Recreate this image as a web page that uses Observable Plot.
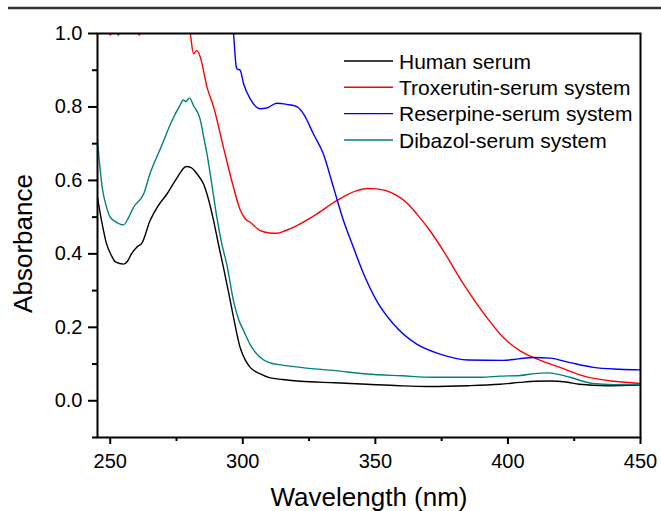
<!DOCTYPE html>
<html>
<head>
<meta charset="utf-8">
<script src="https://cdn.jsdelivr.net/npm/d3@7"></script>
<script src="https://cdn.jsdelivr.net/npm/@observablehq/plot@0.6"></script>
<style>
  html, body { margin: 0; padding: 0; background: #fff; }
  #chart svg { display: block; font-family: "Liberation Sans", Arial, sans-serif; }
</style>
</head>
<body>
<div id="chart"></div>
<script>
const seriesNames = ["Human serum", "Troxerutin-serum system", "Reserpine-serum system", "Dibazol-serum system"];
const seriesColors = ["#000000", "#ff0000", "#0000ff", "#008080"];

const humanWl = [245,247,248.5,250.5,252,255,256.5,258,260,262,265,268,271.4,275,278.7,280.5,282.7,285.2,287,289,291,292.7,294.5,296.5,299,301,302.8,306.6,310,315,321.7,335,346.8,359,370,385,397,404.6,410,416,422,427,437,450];
const humanAbs = [0.563,0.48,0.43,0.395,0.378,0.372,0.38,0.40,0.418,0.43,0.49,0.53,0.563,0.605,0.638,0.635,0.618,0.59,0.55,0.49,0.42,0.363,0.30,0.227,0.145,0.11,0.091,0.073,0.063,0.058,0.053,0.049,0.045,0.041,0.039,0.041,0.045,0.05,0.053,0.054,0.051,0.045,0.041,0.043];

const troxWl = [245,249,250,251.5,253,254.5,256,259,261,262.5,270,278,280.2,281.4,282.7,284,286.5,289,292.7,296.5,299,301,302.8,306.6,310,312.8,316,320.4,328,335.4,343,347,350.5,354,358,362,365.6,370.6,375.6,383.2,392,398.3,404.6,410.9,419.6,429.7,440,450];
const troxAbs = [1.15,1.04,0.995,1.03,0.995,1.02,1.06,1.04,0.995,1.05,1.15,1.08,1.0,0.945,0.954,0.935,0.854,0.80,0.69,0.581,0.52,0.495,0.486,0.463,0.457,0.456,0.463,0.477,0.509,0.545,0.572,0.578,0.577,0.572,0.559,0.538,0.509,0.463,0.409,0.318,0.227,0.172,0.136,0.114,0.091,0.065,0.053,0.047];

const reserWl = [294,296.5,297.5,297.8,299,300.3,302.8,306.6,309,312.8,316.6,320.4,322.9,326.6,330.4,334.2,338,341.7,345.2,350.5,356.8,365.6,374.4,385,398.3,404,409.6,415.9,423.4,432.2,442.2,450];
const reserAbs = [1.12,1.0,0.91,0.904,0.90,0.863,0.822,0.795,0.797,0.81,0.807,0.801,0.781,0.727,0.672,0.581,0.49,0.418,0.352,0.272,0.209,0.154,0.127,0.111,0.110,0.114,0.118,0.116,0.104,0.091,0.086,0.084];

const dibWl = [245,246.2,247,248.5,250,252,255,257,258.8,262.6,265,268.9,273.9,276,277.6,278.5,279.9,281.4,283.9,285.2,286.5,288.3,290.2,292,294,296.5,298.5,300.3,303,306.6,310,315,321.7,335,346.8,360,371.9,390,397,404.6,410,414.6,419,423.4,432,440,450];
const dibAbs = [0.725,0.63,0.58,0.53,0.50,0.488,0.479,0.50,0.527,0.563,0.618,0.686,0.772,0.80,0.819,0.815,0.824,0.804,0.767,0.72,0.672,0.59,0.50,0.43,0.37,0.272,0.22,0.191,0.15,0.118,0.104,0.097,0.091,0.082,0.073,0.068,0.064,0.064,0.067,0.069,0.074,0.076,0.072,0.064,0.047,0.044,0.045];

const xMajor = [250, 300, 350, 400, 450];
const xMinor = [275, 325, 375, 425];
const yMajor = [0.0, 0.2, 0.4, 0.6, 0.8, 1.0];
const yMinor = [-0.1, 0.1, 0.3, 0.5, 0.7, 0.9];

const allWl = [humanWl, troxWl, reserWl, dibWl];
const allAbs = [humanAbs, troxAbs, reserAbs, dibAbs];
const rows = [];
allWl.forEach((wl, s) => wl.forEach((w, i) => rows.push({series: seriesNames[s], wl: w, abs: allAbs[s][i]})));

const W = 661, H = 511;
const plot = Plot.plot({
  width: W,
  height: H,
  marginLeft: 97,
  marginRight: 21,
  marginTop: 33,
  marginBottom: 74,
  style: {fontFamily: "'Liberation Sans', Arial, sans-serif", background: "#fff", color: "#000"},
  x: {domain: [245.2, 450]},
  y: {domain: [-0.1, 1.0]},
  color: {domain: seriesNames, range: seriesColors},
  marks: [
    Plot.line(rows, {x: "wl", y: "abs", z: "series", stroke: "series", strokeWidth: 1.4, curve: "monotone-x", clip: true}),
    Plot.frame({stroke: "#000", strokeWidth: 2}),
    Plot.axisX({ticks: xMajor, tickSize: 7, tickPadding: 9.5, strokeWidth: 2, fontSize: 20, label: null, tickFormat: d3.format("d")}),
    Plot.axisX({ticks: xMinor, tickSize: 4, strokeWidth: 2, label: null, text: null}),
    Plot.axisY({ticks: yMajor, tickSize: 9, tickPadding: 6, strokeWidth: 2, fontSize: 20, label: null, tickFormat: d3.format(".1f")}),
    Plot.axisY({ticks: yMinor, tickSize: 5, strokeWidth: 2, label: null, text: null}),
    Plot.text(["Absorbance"], {frameAnchor: "left", textAnchor: "middle", lineAnchor: "middle", dx: -74, dy: 8, rotate: -90, fontSize: 26, fill: "#000"}),
    Plot.text(["Wavelength (nm)"], {frameAnchor: "bottom", textAnchor: "middle", lineAnchor: "bottom", dy: 68, fontSize: 26, fill: "#000"})
  ]
});

const svg = d3.select(plot);
// top rule across page
svg.append("line").attr("x1", 8).attr("x2", W).attr("y1", 8).attr("y2", 8)
  .attr("stroke", "#333").attr("stroke-width", 2.5);

// legend
const legendY = [61, 87.3, 113.6, 140];
const lg = svg.append("g");
seriesNames.forEach((name, i) => {
  lg.append("line").attr("x1", 344).attr("x2", 393).attr("y1", legendY[i]).attr("y2", legendY[i])
    .attr("stroke", seriesColors[i]).attr("stroke-width", 1.4);
  lg.append("text").attr("x", 399).attr("y", legendY[i]).attr("dy", "0.36em")
    .attr("text-anchor", "start")
    .attr("font-size", 21).attr("fill", "#000").text(name);
});

document.getElementById("chart").appendChild(plot);
</script>
</body>
</html>
